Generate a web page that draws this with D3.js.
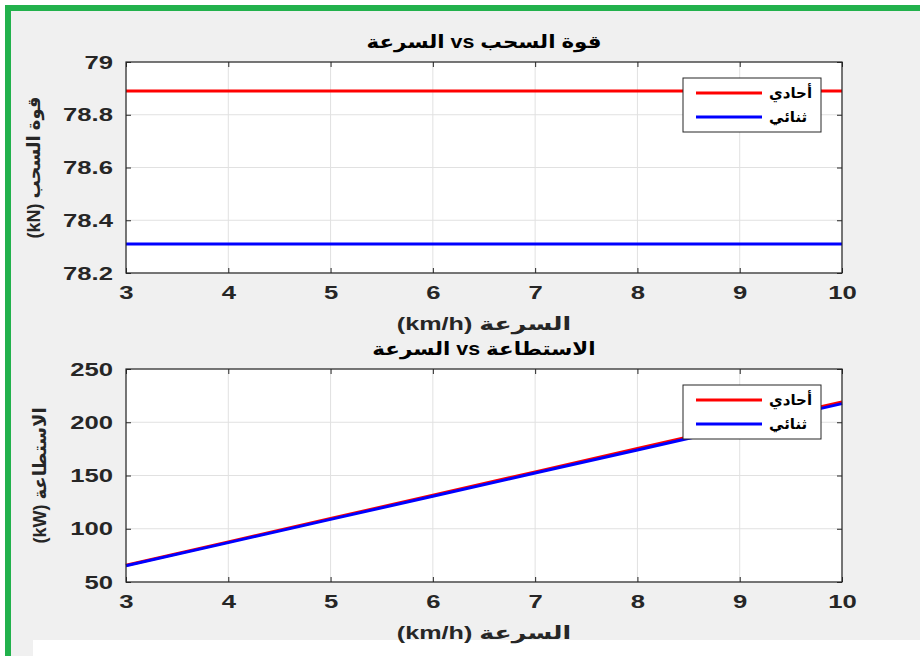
<!DOCTYPE html>
<html>
<head>
<meta charset="utf-8">
<script src="https://cdn.jsdelivr.net/npm/d3@7"></script>
<style>
  body { margin: 0; background: #fff; }
  text { font-family: "Liberation Sans", Arial, "DejaVu Sans", sans-serif; font-weight: bold; direction: ltr; }
</style>
</head>
<body>
<div id="chart"></div>
<script>
// speed (km/h)
let speed = [3, 4, 5, 6, 7, 8, 9, 10];

// traction force (kN)
let force_single = [78.89, 78.89, 78.89, 78.89, 78.89, 78.89, 78.89, 78.89];
let force_double = [78.31, 78.31, 78.31, 78.31, 78.31, 78.31, 78.31, 78.31];

// power (kW)
let power_single = [65.7, 87.7, 109.6, 131.5, 153.4, 175.3, 197.2, 219.1];
let power_double = [65.3, 87.0, 108.8, 130.5, 152.3, 174.0, 195.8, 217.5];

let x_ticks = [3, 4, 5, 6, 7, 8, 9, 10];
let force_ticks = [78.2, 78.4, 78.6, 78.8, 79];
let power_ticks = [50, 100, 150, 200, 250];

let series_names = ["أحادي", "ثنائي"];
let colors = ["#ff0000", "#0000ff"];

let width = 920;
let height = 656;
let left = 126, right = 842;
let stretch = 1.35;   // the figure text is drawn wider than the font
let lrm = "\u200E";   // keep the mixed arabic / latin labels in left-to-right order

let svg = d3.select("#chart")
            .append("svg")
            .attr("width", width)
            .attr("height", height);

// figure background with the green frame
svg.append("rect").attr("width", width).attr("height", height).attr("fill", "#fff");
svg.append("rect")
   .attr("x", 5).attr("y", 5)
   .attr("width", width - 5).attr("height", height - 5)
   .attr("fill", "#22b14c");
svg.append("rect")
   .attr("x", 11).attr("y", 11)
   .attr("width", width - 11).attr("height", height - 11)
   .attr("fill", "#f0f0f0");
svg.append("rect")
   .attr("x", 33).attr("y", 640)
   .attr("width", width - 33).attr("height", height - 640)
   .attr("fill", "#fff");

draw_plot({
  top: 62, bottom: 273,
  domain: [78.2, 79], y_ticks: force_ticks, fmt: d3.format(".1f"),
  data: [force_single, force_double],
  title: lrm + "السرعة vs قوة السحب",
  y_label: lrm + "(kN) قوة السحب", y_label_x: 40,
  legend_top: 78
});

draw_plot({
  top: 369, bottom: 582,
  domain: [50, 250], y_ticks: power_ticks, fmt: d3.format("d"),
  data: [power_single, power_double],
  title: lrm + "السرعة vs الاستطاعة",
  y_label: lrm + "(kW) الاستطاعة", y_label_x: 46,
  legend_top: 385
});

function draw_plot(p) {
  let x = d3.scaleLinear().domain([3, 10]).range([left, right]);
  let y = d3.scaleLinear().domain(p.domain).range([p.bottom, p.top]);
  let fmt = function(d) { return d === 79 ? "79" : p.fmt(d); };
  let cx = (left + right) / 2;

  let g = svg.append("g");

  g.append("rect")
   .attr("x", left).attr("y", p.top)
   .attr("width", right - left).attr("height", p.bottom - p.top)
   .attr("fill", "#fff");

  // grid
  g.selectAll(".vgrid")
   .data(x_ticks)
   .enter().append("line")
   .attr("x1", d => x(d)).attr("x2", d => x(d))
   .attr("y1", p.top).attr("y2", p.bottom)
   .style("stroke", "#e1e1e1").style("stroke-width", 1);

  g.selectAll(".hgrid")
   .data(p.y_ticks)
   .enter().append("line")
   .attr("x1", left).attr("x2", right)
   .attr("y1", d => y(d)).attr("y2", d => y(d))
   .style("stroke", "#e1e1e1").style("stroke-width", 1);

  // data lines
  let line = d3.line()
               .x((d, i) => x(speed[i]))
               .y(d => y(d));

  p.data.forEach(function(s, i) {
    g.append("path")
     .datum(s)
     .attr("d", line)
     .style("fill", "none")
     .style("stroke", colors[i])
     .style("stroke-width", 3);
  });

  // axes, ticks pointing inwards on all four sides
  g.append("g")
   .attr("transform", "translate(0," + p.bottom + ")")
   .style("font-size", "19px")
   .call(d3.axisBottom(x).tickValues(x_ticks).tickFormat(d3.format("d")).tickSize(-5).tickPadding(13).tickSizeOuter(0))
   .call(a => a.selectAll("text")
               .attr("fill", "#262626")
               .attr("transform", "scale(" + stretch + ",1)"));

  g.append("g")
   .attr("transform", "translate(0," + p.top + ")")
   .call(d3.axisTop(x).tickValues(x_ticks).tickSize(-5).tickFormat("").tickSizeOuter(0));

  g.append("g")
   .attr("transform", "translate(" + left + ",0)")
   .style("font-size", "19px")
   .call(d3.axisLeft(y).tickValues(p.y_ticks).tickFormat(fmt).tickSize(-5).tickSizeOuter(0))
   .call(a => a.selectAll("text")
               .attr("x", 0)
               .attr("fill", "#262626")
               .attr("transform", "translate(-13,0) scale(" + stretch + ",1)"));

  g.append("g")
   .attr("transform", "translate(" + right + ",0)")
   .call(d3.axisRight(y).tickValues(p.y_ticks).tickFormat("").tickSize(-5).tickSizeOuter(0));

  g.selectAll(".domain").remove();
  g.selectAll(".tick line").attr("stroke", "#262626");

  g.append("rect")
   .attr("x", left).attr("y", p.top)
   .attr("width", right - left).attr("height", p.bottom - p.top)
   .style("fill", "none").style("stroke", "#262626").style("stroke-width", 1.2);

  // title and labels
  g.append("text")
   .attr("transform", "translate(" + cx + "," + (p.top - 14) + ") scale(1.19,1)")
   .attr("text-anchor", "middle")
   .style("font-size", "18px")
   .attr("fill", "#000")
   .text(p.title);

  g.append("text")
   .attr("transform", "translate(" + cx + "," + (p.bottom + 57) + ") scale(1.4,1)")
   .attr("text-anchor", "middle")
   .style("font-size", "18px")
   .attr("fill", "#262626")
   .text(lrm + "(km/h) السرعة");

  g.append("text")
   .attr("transform", "translate(" + p.y_label_x + "," + ((p.top + p.bottom) / 2) + ") rotate(-90)")
   .attr("text-anchor", "middle")
   .style("font-size", "18px")
   .attr("fill", "#262626")
   .text(p.y_label);

  // legend
  let lg = g.append("g").attr("transform", "translate(683," + p.legend_top + ")");
  lg.append("rect")
    .attr("width", 138).attr("height", 54)
    .style("fill", "#fff").style("stroke", "#262626").style("stroke-width", 1);

  let item = lg.selectAll(".legend")
               .data(series_names)
               .enter().append("g")
               .attr("transform", (d, i) => "translate(0," + (15 + i * 24) + ")");

  item.append("line")
      .attr("x1", 13).attr("x2", 79)
      .style("stroke", (d, i) => colors[i])
      .style("stroke-width", 3);

  item.append("text")
      .attr("x", 86).attr("dy", "0.35em")
      .style("font-size", "15px")
      .attr("fill", "#000")
      .text(d => d);
}
</script>
</body>
</html>
